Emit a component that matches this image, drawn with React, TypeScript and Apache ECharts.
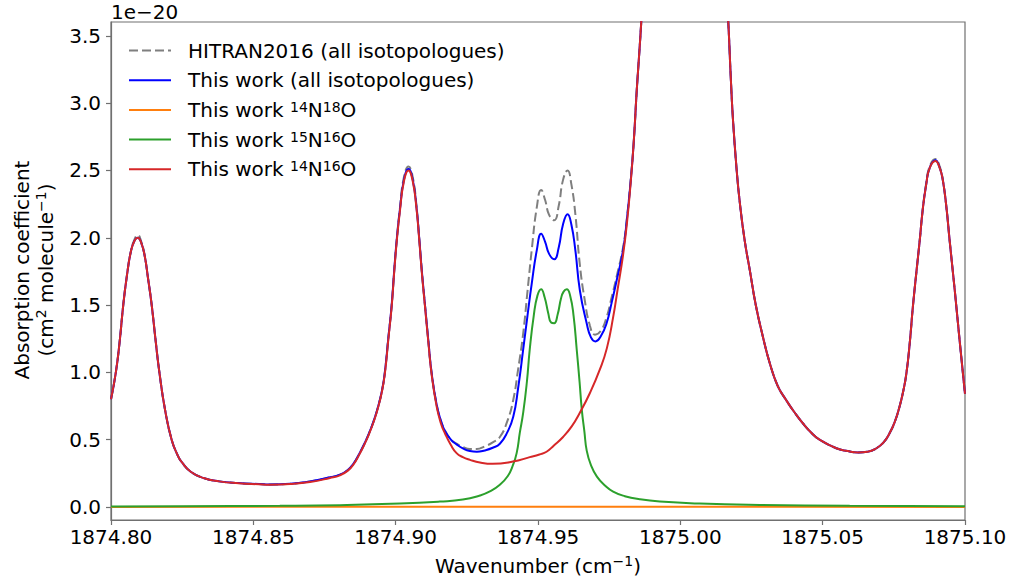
import React, { useEffect, useRef } from 'react';
import * as echarts from 'echarts';

const xTicks = [1874.8, 1874.85, 1874.9, 1874.95, 1875.0, 1875.05, 1875.1];
const yTicks = [0, 0.5, 1.0, 1.5, 2.0, 2.5, 3.0, 3.5];

const seriesNames = [
  'HITRAN2016 (all isotopologues)',
  'This work (all isotopologues)',
  'This work 14N18O',
  'This work 15N16O',
  'This work 14N16O',
];

const hitranAll: [number, number][] = [
  [1874.8, 0.8], [1874.8017, 1.0], [1874.803, 1.22], [1874.8043, 1.5], [1874.8056, 1.72], [1874.807, 1.9],
  [1874.8083, 1.99], [1874.8094, 2.02], [1874.8105, 1.98], [1874.8118, 1.87], [1874.813, 1.7], [1874.8143, 1.5],
  [1874.8156, 1.25], [1874.817, 1.0], [1874.819, 0.72], [1874.8213, 0.5], [1874.8235, 0.38], [1874.8248, 0.335],
  [1874.828, 0.262], [1874.8325, 0.215], [1874.838, 0.19], [1874.8448, 0.177], [1874.852, 0.17], [1874.8558, 0.167],
  [1874.8629, 0.172], [1874.8699, 0.19], [1874.8769, 0.22], [1874.8804, 0.24], [1874.8832, 0.275], [1874.8853, 0.325],
  [1874.8871, 0.39], [1874.8888, 0.46], [1874.8906, 0.545], [1874.8923, 0.64], [1874.8937, 0.735], [1874.8952, 0.865],
  [1874.8962, 1.0], [1874.8974, 1.25], [1874.8986, 1.5], [1874.8995, 1.76],
  [1874.9004, 1.99], [1874.9015, 2.22], [1874.9029, 2.45], [1874.9045, 2.53], [1874.906, 2.45], [1874.9073, 2.24],
  [1874.9083, 1.99], [1874.9092, 1.75], [1874.9103, 1.5], [1874.9115, 1.23], [1874.9126, 1.0], [1874.9144, 0.76],
  [1874.9159, 0.64], [1874.9173, 0.57], [1874.9194, 0.5], [1874.9214, 0.47], [1874.9236, 0.445], [1874.9261, 0.43],
  [1874.9285, 0.43], [1874.9313, 0.45], [1874.9341, 0.48], [1874.9366, 0.52], [1874.9391, 0.63], [1874.9413, 0.795],
  [1874.943, 1.02], [1874.9448, 1.29], [1874.9463, 1.6], [1874.9478, 1.91], [1874.9496, 2.23], [1874.9511, 2.355],
  [1874.9525, 2.28], [1874.9539, 2.17], [1874.9557, 2.13], [1874.9573, 2.24], [1874.9588, 2.43], [1874.9604, 2.5],
  [1874.9617, 2.4], [1874.9631, 2.18], [1874.9647, 1.8], [1874.9664, 1.54], [1874.9682, 1.35], [1874.97, 1.28],
  [1874.9721, 1.31], [1874.9741, 1.41], [1874.9759, 1.56], [1874.9776, 1.71], [1874.9799, 1.93], [1874.9812, 2.14],
  [1874.9826, 2.44], [1874.9836, 2.7], [1874.9847, 3.1], [1874.9856, 3.38], [1874.9864, 3.65], [1874.9878, 4.2],
  [1874.991, 5.8], [1874.9963, 9.0], [1875.0016, 11.0], [1875.0068, 9.0], [1875.0117, 5.8], [1875.0149, 4.3],
  [1875.0168, 3.62], [1875.0177, 3.2], [1875.0185, 2.875], [1875.0198, 2.5], [1875.0209, 2.26], [1875.0226, 1.98],
  [1875.0244, 1.76], [1875.0265, 1.5], [1875.029, 1.265], [1875.0314, 1.07], [1875.0342, 0.9], [1875.0373, 0.79],
  [1875.0402, 0.7], [1875.0431, 0.62], [1875.0461, 0.55], [1875.0489, 0.5], [1875.0548, 0.436], [1875.0588, 0.415],
  [1875.0624, 0.405], [1875.0658, 0.41], [1875.0689, 0.436], [1875.0714, 0.48], [1875.0735, 0.547], [1875.0753, 0.63],
  [1875.077, 0.745], [1875.0783, 0.86], [1875.0794, 0.99], [1875.0806, 1.22], [1875.0817, 1.49], [1875.083, 1.76],
  [1875.0841, 1.98], [1875.0851, 2.2], [1875.0864, 2.41], [1875.0876, 2.53], [1875.0896, 2.585], [1875.0911, 2.53],
  [1875.0922, 2.43], [1875.0935, 2.22], [1875.0946, 1.98], [1875.0964, 1.61], [1875.0981, 1.24], [1875.1, 0.84],
];

const thisWorkAll: [number, number][] = [
  [1874.8, 0.8], [1874.8017, 1.0], [1874.803, 1.22], [1874.8043, 1.5], [1874.8056, 1.72], [1874.807, 1.9],
  [1874.8083, 1.98], [1874.8094, 2.0], [1874.8105, 1.97], [1874.8118, 1.87], [1874.813, 1.7], [1874.8143, 1.5],
  [1874.8156, 1.25], [1874.817, 1.0], [1874.819, 0.72], [1874.8213, 0.5], [1874.8235, 0.38], [1874.8248, 0.335],
  [1874.828, 0.262], [1874.8325, 0.215], [1874.838, 0.19], [1874.8448, 0.177], [1874.852, 0.17], [1874.8558, 0.167],
  [1874.8629, 0.172], [1874.8699, 0.19], [1874.8769, 0.22], [1874.8804, 0.24], [1874.8832, 0.275], [1874.8853, 0.325],
  [1874.8871, 0.39], [1874.8888, 0.46], [1874.8906, 0.545], [1874.8923, 0.64], [1874.8937, 0.735], [1874.8952, 0.865],
  [1874.8962, 1.0], [1874.8974, 1.25], [1874.8986, 1.5], [1874.8995, 1.76],
  [1874.9004, 1.99], [1874.9015, 2.21], [1874.9029, 2.43], [1874.9045, 2.51], [1874.906, 2.43], [1874.9073, 2.23],
  [1874.9083, 1.99], [1874.9092, 1.75], [1874.9103, 1.5], [1874.9115, 1.23], [1874.9126, 1.0], [1874.9144, 0.76],
  [1874.9159, 0.64], [1874.9173, 0.565], [1874.9194, 0.5], [1874.9214, 0.465], [1874.9236, 0.435], [1874.9261, 0.415],
  [1874.9285, 0.41], [1874.9313, 0.42], [1874.9341, 0.44], [1874.9366, 0.47], [1874.9391, 0.55], [1874.9413, 0.67],
  [1874.943, 0.88], [1874.9448, 1.17], [1874.9463, 1.42], [1874.9478, 1.66], [1874.9496, 1.91], [1874.9511, 2.03],
  [1874.9525, 1.97], [1874.9539, 1.88], [1874.9557, 1.84], [1874.9573, 1.93], [1874.9588, 2.1], [1874.9604, 2.175],
  [1874.9617, 2.1], [1874.9631, 1.91], [1874.9647, 1.61], [1874.9671, 1.365], [1874.9686, 1.26], [1874.9702, 1.23],
  [1874.9721, 1.27], [1874.9741, 1.365], [1874.9759, 1.52], [1874.9776, 1.68], [1874.9799, 1.91], [1874.9812, 2.13],
  [1874.9826, 2.43], [1874.9836, 2.7], [1874.9847, 3.1], [1874.9856, 3.38], [1874.9864, 3.65], [1874.9878, 4.2],
  [1874.991, 5.8], [1874.9963, 9.0], [1875.0016, 11.0], [1875.0068, 9.0], [1875.0117, 5.8], [1875.0149, 4.3],
  [1875.0168, 3.62], [1875.0177, 3.2], [1875.0185, 2.875], [1875.0198, 2.5], [1875.0209, 2.26], [1875.0226, 1.98],
  [1875.0244, 1.76], [1875.0265, 1.5], [1875.029, 1.265], [1875.0314, 1.07], [1875.0342, 0.9], [1875.0373, 0.79],
  [1875.0402, 0.7], [1875.0431, 0.62], [1875.0461, 0.55], [1875.0489, 0.5], [1875.0548, 0.436], [1875.0588, 0.415],
  [1875.0624, 0.405], [1875.0658, 0.41], [1875.0689, 0.436], [1875.0714, 0.48], [1875.0735, 0.547], [1875.0753, 0.63],
  [1875.077, 0.745], [1875.0783, 0.86], [1875.0794, 0.99], [1875.0806, 1.22], [1875.0817, 1.49], [1875.083, 1.76],
  [1875.0841, 1.98], [1875.0851, 2.2], [1875.0864, 2.4], [1875.0876, 2.52], [1875.0896, 2.575], [1875.0911, 2.52],
  [1875.0922, 2.43], [1875.0935, 2.22], [1875.0946, 1.98], [1875.0964, 1.61], [1875.0981, 1.24], [1875.1, 0.84],
];

const n14o18: [number, number][] = [
  [1874.8, 0.0005], [1874.9, 0.001], [1874.94, 0.0015], [1874.955, 0.002], [1874.97, 0.0015],
  [1875.0, 0.001], [1875.1, 0.0005],
];

const n15o16: [number, number][] = [
  [1874.8, 0.003], [1874.8253, 0.005], [1874.8593, 0.008], [1874.8804, 0.013], [1874.9015, 0.025],
  [1874.9155, 0.04], [1874.9236, 0.055], [1874.9296, 0.085], [1874.9331, 0.115], [1874.9366, 0.165],
  [1874.9394, 0.23], [1874.941, 0.3], [1874.9425, 0.4], [1874.9436, 0.55], [1874.9448, 0.7],
  [1874.9461, 0.93], [1874.9471, 1.17], [1874.9485, 1.42], [1874.9498, 1.57], [1874.9511, 1.617],
  [1874.9523, 1.56], [1874.9536, 1.44], [1874.9546, 1.37], [1874.9557, 1.365], [1874.9569, 1.43],
  [1874.9581, 1.55], [1874.959, 1.6], [1874.9601, 1.617], [1874.9613, 1.57], [1874.9625, 1.42],
  [1874.9636, 1.17], [1874.9646, 0.93], [1874.9654, 0.72], [1874.9663, 0.56], [1874.9671, 0.42],
  [1874.9686, 0.31], [1874.9707, 0.225], [1874.9735, 0.16], [1874.9764, 0.114], [1874.9805, 0.08],
  [1874.9857, 0.057], [1874.9928, 0.04], [1875.0068, 0.025], [1875.0279, 0.015], [1875.0595, 0.009],
  [1875.1, 0.005],
];

const n14o16: [number, number][] = [
  [1874.8, 0.8], [1874.8017, 1.0], [1874.803, 1.22], [1874.8043, 1.5], [1874.8056, 1.72], [1874.807, 1.9],
  [1874.8083, 1.98], [1874.8094, 2.0], [1874.8105, 1.97], [1874.8118, 1.87], [1874.813, 1.7], [1874.8143, 1.5],
  [1874.8156, 1.25], [1874.817, 1.0], [1874.819, 0.72], [1874.8213, 0.5], [1874.8235, 0.38], [1874.8248, 0.335],
  [1874.828, 0.262], [1874.8325, 0.215], [1874.838, 0.19], [1874.8448, 0.176], [1874.852, 0.168], [1874.8558, 0.165],
  [1874.8629, 0.17], [1874.8699, 0.185], [1874.8769, 0.215], [1874.8804, 0.235], [1874.8832, 0.27], [1874.8853, 0.32],
  [1874.8871, 0.385], [1874.8888, 0.455], [1874.8906, 0.54], [1874.8923, 0.635], [1874.8937, 0.73], [1874.8952, 0.86],
  [1874.8962, 0.99], [1874.8974, 1.24], [1874.8986, 1.49], [1874.8995, 1.75],
  [1874.9004, 1.98], [1874.9015, 2.2], [1874.9029, 2.42], [1874.9045, 2.5], [1874.906, 2.42], [1874.9073, 2.22],
  [1874.9083, 1.98], [1874.9092, 1.74], [1874.9103, 1.49], [1874.9115, 1.22], [1874.9126, 0.99], [1874.9144, 0.745],
  [1874.9159, 0.62], [1874.9173, 0.547], [1874.9194, 0.46], [1874.9214, 0.4], [1874.9236, 0.37], [1874.9261, 0.35],
  [1874.9296, 0.33], [1874.9341, 0.32], [1874.9412, 0.337], [1874.9471, 0.37], [1874.9505, 0.39], [1874.953, 0.41],
  [1874.9555, 0.455], [1874.9588, 0.52], [1874.9619, 0.6], [1874.9647, 0.7], [1874.9682, 0.845], [1874.9717, 1.02],
  [1874.9742, 1.18], [1874.9764, 1.41], [1874.978, 1.62], [1874.9798, 1.86], [1874.9812, 2.1], [1874.9826, 2.42],
  [1874.9836, 2.7], [1874.9847, 3.1], [1874.9856, 3.38], [1874.9864, 3.65], [1874.9878, 4.2], [1874.991, 5.8],
  [1874.9963, 9.0], [1875.0016, 11.0],
  [1875.0068, 9.0], [1875.0117, 5.8], [1875.0149, 4.3], [1875.0168, 3.62], [1875.0177, 3.2], [1875.0185, 2.875],
  [1875.0198, 2.5], [1875.0209, 2.26], [1875.0226, 1.98], [1875.0244, 1.76], [1875.0265, 1.5], [1875.029, 1.265],
  [1875.0314, 1.07], [1875.0342, 0.9], [1875.0373, 0.79], [1875.0402, 0.7], [1875.0431, 0.62], [1875.0461, 0.55],
  [1875.0489, 0.5], [1875.0548, 0.436], [1875.0588, 0.415], [1875.0624, 0.405], [1875.0658, 0.41], [1875.0689, 0.436],
  [1875.0714, 0.48], [1875.0735, 0.547], [1875.0753, 0.63], [1875.077, 0.745], [1875.0783, 0.86], [1875.0794, 0.99],
  [1875.0806, 1.22], [1875.0817, 1.49], [1875.083, 1.76], [1875.0841, 1.98], [1875.0851, 2.2], [1875.0864, 2.4],
  [1875.0876, 2.52], [1875.0896, 2.57], [1875.0911, 2.52], [1875.0922, 2.43], [1875.0935, 2.22], [1875.0946, 1.98],
  [1875.0964, 1.61], [1875.0981, 1.24], [1875.1, 0.84],
];

const seriesData = [hitranAll, thisWorkAll, n14o18, n15o16, n14o16];
const seriesColors = ['#7f7f7f', '#0000ff', '#ff7f0e', '#2ca02c', '#d62728'];

const legendRich: Record<string, string> = {
  'HITRAN2016 (all isotopologues)': '{b|HITRAN2016 (all isotopologues)}',
  'This work (all isotopologues)': '{b|This work (all isotopologues)}',
  'This work 14N18O': '{b|This work }{s|14}{b|N}{s|18}{b|O}',
  'This work 15N16O': '{b|This work }{s|15}{b|N}{s|16}{b|O}',
  'This work 14N16O': '{b|This work }{s|14}{b|N}{s|16}{b|O}',
};

export default function App() {
  const ref = useRef<HTMLDivElement>(null);
  useEffect(() => {
    const chart = echarts.init(ref.current!, null, { renderer: 'svg' });
    const font = "'DejaVu Sans', sans-serif";
    const rich: any = {
      b: { fontSize: 20, fontFamily: font, color: '#000', lineHeight: 24 },
      s: { fontSize: 14, fontFamily: font, color: '#000', lineHeight: 14, verticalAlign: 'top' },
    };
    const legendRichStyle: any = {
      b: { fontSize: 20, fontFamily: font, color: '#000', lineHeight: 20 },
      s: { fontSize: 14, fontFamily: font, color: '#000', lineHeight: 12, verticalAlign: 'top' },
    };
    const axisColor = '#707070';
    chart.setOption({
      animation: false,
      backgroundColor: '#ffffff',
      grid: {
        left: 111, right: 48, top: 22, bottom: 65,
        show: true, borderColor: axisColor, borderWidth: 1.2, backgroundColor: 'transparent',
        containLabel: false, outerBoundsMode: 'none',
      },
      legend: {
        orient: 'vertical', left: 128, top: 40.5, padding: 0,
        itemWidth: 42, itemHeight: 20, itemGap: 9.7,
        data: seriesNames,
        itemStyle: { opacity: 0 },
        formatter: (name: string) => legendRich[name],
        textStyle: { fontSize: 20, fontFamily: font, color: '#000', padding: [0, 0, 0, 12], rich: legendRichStyle },
        selectedMode: false,
      },
      xAxis: {
        type: 'value', min: 1874.8, max: 1875.1,
        splitLine: { show: false },
        axisLine: { show: true, onZero: false, lineStyle: { color: axisColor, width: 1.2 } },
        axisTick: { show: true, inside: false, length: 5, lineStyle: { color: axisColor, width: 1.2 }, customValues: xTicks },
        axisLabel: {
          customValues: xTicks, margin: 7, color: '#000', fontSize: 20, fontFamily: font,
          formatter: (v: number) => v.toFixed(2),
        },
      },
      yAxis: {
        type: 'value', min: -0.097, max: 3.603,
        splitLine: { show: false },
        axisLine: { show: true, onZero: false, lineStyle: { color: axisColor, width: 1.2 } },
        axisTick: { show: true, inside: false, length: 5, lineStyle: { color: axisColor, width: 1.2 }, customValues: yTicks },
        axisLabel: {
          customValues: yTicks, margin: 10, color: '#000', fontSize: 20, fontFamily: font,
          formatter: (v: number) => v.toFixed(1),
        },
      },
      graphic: [
        {
          type: 'text', left: 111, top: 2,
          style: { text: '1e\u221220', fontSize: 20, fontFamily: font, fill: '#000' },
        },
        {
          type: 'text', x: 538, y: 566,
          style: {
            text: '{b|Wavenumber (cm}{s|\u22121}{b|)}', rich,
            align: 'center', verticalAlign: 'middle',
          },
        },
        {
          type: 'text', x: 34, y: 270, rotation: Math.PI / 2,
          style: {
            text: '{b|Absorption coefficient}\n{b|(cm}{s|2}{b| molecule}{s|\u22121}{b|)}', rich,
            align: 'center', verticalAlign: 'middle',
          },
        },
      ],
      series: seriesNames.map((name, i) => ({
        name,
        type: 'line',
        data: seriesData[i],
        symbol: 'none',
        showSymbol: false,
        smooth: 0.5,
        clip: true,
        z: 2 + i,
        lineStyle: {
          color: seriesColors[i], width: 2,
          type: i === 0 ? [9, 4] : 'solid',
        },
        itemStyle: { color: seriesColors[i] },
        emphasis: { disabled: true },
      })),
    });
    return () => chart.dispose();
  }, []);
  return <div ref={ref} style={{ position: 'absolute', left: 0, top: 0, width: 1013, height: 585 }} />;
}
